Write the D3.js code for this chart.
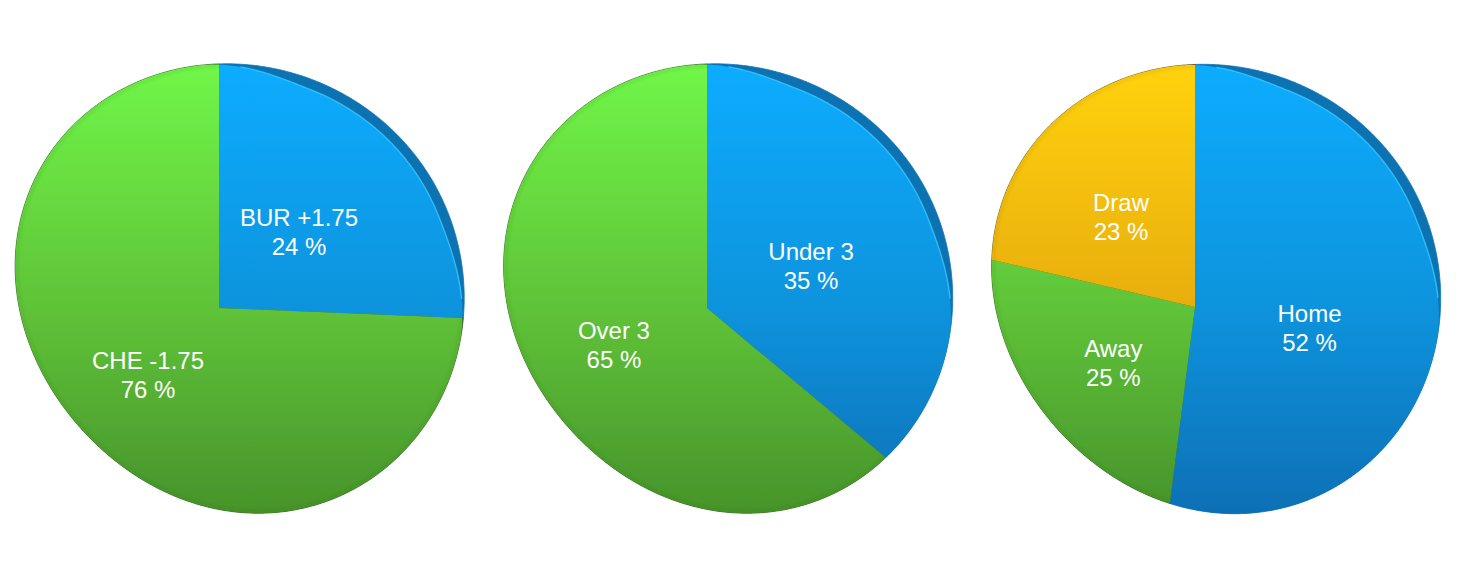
<!DOCTYPE html>
<html><head><meta charset="utf-8">
<style>html,body{margin:0;padding:0;background:#fff}svg{display:block}</style>
<script src="https://cdnjs.cloudflare.com/ajax/libs/d3/7.8.5/d3.min.js"></script>
</head><body><svg id="c" width="1460" height="562"></svg>
<script>
// ---- data ----
const spreadLabels = ["BUR +1.75", "CHE -1.75"];
const spreadValues = [24, 76];
const totalLabels  = ["Under 3", "Over 3"];
const totalValues  = [35, 65];
const resultLabels = ["Home", "Away", "Draw"];
const resultValues = [52, 25, 23];
const spreadColors = ["blue", "green"];
const totalColors  = ["blue", "green"];
const resultColors = ["blue", "green", "yellow"];

// ---- layout (not data) ----
const layouts = [
  {labels:spreadLabels, values:spreadValues, colors:spreadColors, apex:[219,308], centre:[239.5,288.5],
   nudge:[[3,6],[6,1]]},
  {labels:totalLabels, values:totalValues, colors:totalColors, apex:[707,308], centre:[728,288.5],
   nudge:[[5,6],[6,5]]},
  {labels:resultLabels, values:resultValues, colors:resultColors, apex:[1195,307], centre:[1216,289],
   nudge:[[9,11],[7,4],[-7,1]]}
];
// tilted silhouette shared by the three pies: radius every 15 degrees clockwise from north
const silhouetteRadii = [223,222,221.5,221,222,222.5,221.5,224,234,233.5,230,227,222.5,216.5,216,215,212,214.5,222,229,233,236,231,225.5];
const palette = {
  blue:  {top:"#0bacff", mid:"#0c93dc", bottom:"#0a70b6", side:"#0a72b2"},
  green: {top:"#70f648", mid:"#5fc238", bottom:"#47942b", side:"#2c5a1c"},
  yellow:{top:"#ffd20c", mid:"#e8ad0e", bottom:"#c9920c", side:"#6d5410"}
};
const deg = Math.PI/180, TAU = 2*Math.PI;
const svg = d3.select("#c");
const defs = svg.append("defs");
const yScale = d3.scaleLinear().domain([65,512]).range([0,1]);
Object.entries(palette).forEach(([k,p])=>{
  const g = defs.append("linearGradient").attr("id","g-"+k).attr("gradientUnits","userSpaceOnUse")
    .attr("x1",0).attr("x2",0).attr("y1",yScale.invert(0)).attr("y2",yScale.invert(1));
  [[0,p.top],[0.55,p.mid],[1,p.bottom]].forEach(s=>g.append("stop").attr("offset",s[0]).attr("stop-color",s[1]));
});
defs.append("filter").attr("id","soft").append("feGaussianBlur").attr("stdDeviation",0.35);
defs.append("filter").attr("id","shade").append("feGaussianBlur").attr("stdDeviation",1.5);

const warp = a => a + 6*deg*Math.sin(a)**2;              // tilted-view angle
// low-order harmonics of the measured radii give a smooth outline
const n = silhouetteRadii.length;
const harmonics = d3.range(0,4).map(k=>({k,
  c:d3.sum(silhouetteRadii,(r,i)=>r*Math.cos(k*i*TAU/n))*(k?2:1)/n,
  s:d3.sum(silhouetteRadii,(r,i)=>r*Math.sin(k*i*TAU/n))*(k?2:1)/n}));
const rOf = phi => d3.sum(harmonics,h=>h.c*Math.cos(h.k*phi)+h.s*Math.sin(h.k*phi));
const smooth = (e0,e1,x)=>{const t=Math.min(1,Math.max(0,(x-e0)/(e1-e0)));return t*t*(3-2*t);};
const thickness = phi => { let d=phi/deg; if(d>180)d-=360; return 10*smooth(-10,20,d)*(1-smooth(70,104,d)); };
const lineGen = d3.line().curve(d3.curveLinear);

layouts.forEach(L=>{
  const pie = d3.pie().sort(null).value(d=>d)(L.values);
  const [ax,ay]=L.apex,[cx,cy]=L.centre;
  function rim(theta,inset){
    const t=warp(theta), dx=Math.sin(t), dy=-Math.cos(t);
    let s=224, px=0, py=0, phi=0, r=224;
    for(let k=0;k<14;k++){
      px=ax+s*dx-cx; py=ay+s*dy-cy;
      phi=Math.atan2(px,-py); if(phi<0)phi+=TAU;
      r=rOf(phi);
      s+=r-Math.hypot(px,py);
    }
    const rr=r-inset(phi);
    return [cx+rr*Math.sin(phi),cy-rr*Math.cos(phi)];
  }
  const sweep=(a0,a1,inset)=>d3.range(0,1.0001,1/Math.max(4,Math.ceil((a1-a0)/(0.5*deg)))).map(f=>rim(a0+(a1-a0)*f,inset));
  const none=()=>0;
  const g=svg.append("g").attr("filter","url(#soft)");
  // dark side / rim
  g.selectAll("path.side").data(pie).join("path").attr("class","side")
    .attr("d",d=>lineGen([L.apex,...sweep(d.startAngle,d.endAngle,none)])+"Z")
    .attr("fill",(d,i)=>palette[L.colors[i]].side)
    .attr("stroke",(d,i)=>palette[L.colors[i]].side).attr("stroke-width",0.8);
  // face
  g.selectAll("path.face").data(pie).join("path").attr("class","face")
    .attr("d",d=>lineGen([L.apex,...sweep(d.startAngle,d.endAngle,thickness)])+"Z")
    .attr("fill",(d,i)=>`url(#g-${L.colors[i]})`);
  // soft shading just inside the rim
  svg.append("g").attr("filter","url(#shade)").selectAll("path").data(pie).join("path")
    .attr("d",d=>lineGen(sweep(d.startAngle,d.endAngle,phi=>thickness(phi)+2)))
    .attr("fill","none").attr("stroke",(d,i)=>L.colors[i]==="blue"?"none":palette[L.colors[i]].side)
    .attr("stroke-width",1.5).attr("stroke-opacity",.2);
  // highlight on blue lip
  const lip=sweep(pie[0].startAngle+5*deg,Math.min(pie[0].endAngle,82*deg),thickness);
  g.append("path").attr("d",lineGen(lip)).attr("fill","none")
    .attr("stroke","#3cc8ff").attr("stroke-width",1.4).attr("stroke-opacity",.8);
  // labels
  const t=svg.append("g").attr("font-family","'Liberation Sans',Arial,sans-serif")
    .attr("font-size",24).attr("fill","#fff").attr("text-anchor","middle");
  pie.forEach((d,i)=>{
    const m=warp((d.startAngle+d.endAngle)/2), r=107;
    const x=ax+r*Math.sin(m)+L.nudge[i][0], y=ay-r*Math.cos(m)-8+L.nudge[i][1];
    t.append("text").attr("x",x).attr("y",y-6).text(L.labels[i]);
    t.append("text").attr("x",x).attr("y",y+23).text(L.values[i]+" %");
  });
});
</script></body></html>
